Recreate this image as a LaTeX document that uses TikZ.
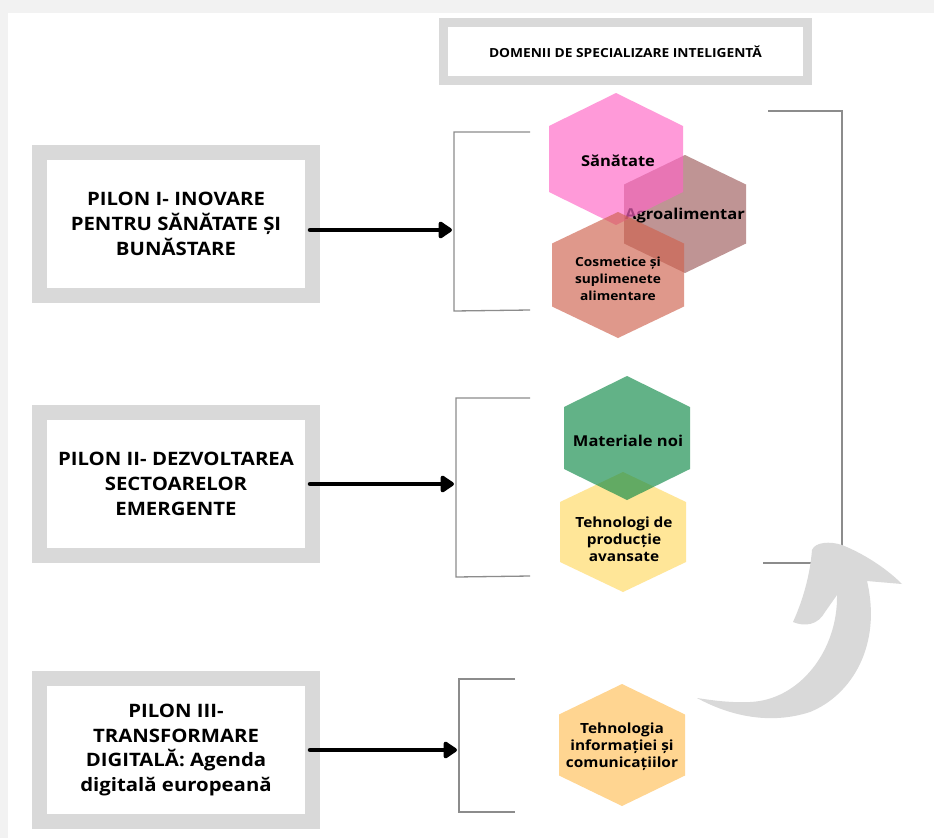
\documentclass[tikz,border=0pt]{standalone}
\usepackage{fontspec}
\setmainfont{Open Sans}[FakeStretch=1.1]
\usetikzlibrary{arrows.meta}
\definecolor{pagegray}{RGB}{242,242,242}
\definecolor{framegray}{RGB}{217,217,217}
\definecolor{brackgray}{RGB}{140,140,140}
\definecolor{arrowgray}{RGB}{217,217,217}
\definecolor{pinkc}{RGB}{255,101,198}
\definecolor{mauvec}{RGB}{158,91,91}
\definecolor{salmonc}{RGB}{207,98,78}
\definecolor{greenc}{RGB}{14,138,71}
\definecolor{yellowc}{RGB}{255,217,98}
\definecolor{peachc}{RGB}{255,213,145}
\newcommand\hexfill[4]{\fill[#4] (#1) ++(0,-#3) -- ++(#2,#3/2) -- ++(0,#3) -- ++(-#2,#3/2) -- ++(-#2,-#3/2) -- ++(0,-#3) -- cycle;}
\tikzset{
  pilon/.style={draw=framegray, line width=15pt, fill=white, minimum width=273pt, minimum height=143pt, align=center, inner sep=0pt, font=\bfseries\fontsize{18.5}{24.8}\selectfont},
  titlebox/.style={draw=framegray, line width=9pt, fill=white, minimum width=364pt, minimum height=58pt, inner sep=0pt, font=\bfseries\fontsize{12.5}{14}\selectfont},
  hextext/.style={align=center, inner sep=0pt, font=\bfseries\fontsize{15}{17}\selectfont},
  hexsmall/.style={align=center, inner sep=0pt, font=\bfseries\fontsize{14}{17}\selectfont},
  hexsmaller/.style={align=center, inner sep=0pt, font=\bfseries\fontsize{12.5}{17}\selectfont},
  bigarrow/.style={line width=4.5pt, line cap=round, -{Triangle[length=15pt,width=19pt,round]}},
  brack/.style={draw=brackgray, line width=1.3pt},
  op/.style={fill opacity=0.65}
}
\begin{document}
\begin{tikzpicture}[x=1pt,y=-1pt]
\useasboundingbox (0,0) rectangle (934,838);
\fill[pagegray] (0,0) rectangle (934,838);
\fill[white] (8,13) rectangle (934,838);

% title
\node[titlebox] (title) at (625.5,51.5) {DOMENII DE SPECIALIZARE INTELIGENTĂ};

% pillars
\node[pilon] (p1) at (176,224) {PILON I- INOVARE\\PENTRU SĂNĂTATE ȘI\\BUNĂSTARE};
\node[pilon] (p2) at (176,484) {PILON II- DEZVOLTAREA\\SECTOARELOR\\EMERGENTE};
\node[pilon] (p3) at (176,750) {PILON III-\\TRANSFORMARE\\DIGITALĂ: Agenda\\digitală europeană};

% left brackets
\draw[brack] (530,132) -- (454,132) -- (454,311) -- (530,310);
\draw[brack] (530,398) -- (456,398) -- (456,577) -- (530,576);
\draw[brack] (515,679) -- (459,679) -- (459,812) -- (515,812);
\coordinate (a1) at (452,230);
\coordinate (a2) at (454,484);
\coordinate (a3) at (457,750);

% arrows
\draw[bigarrow] ([xshift=-10pt]p1.east |- a1) -- (a1);
\draw[bigarrow] ([xshift=-10pt]p2.east |- a2) -- (a2);
\draw[bigarrow] ([xshift=-10pt]p3.east |- a3) -- (a3);

% right bracket
\draw[brack] (768,111) -- (842,111) -- (842,563) -- (763,563);

% curved arrow
\fill[arrowgray] (697,698) .. controls (730,716) and (770,725) .. (810,712)
  .. controls (852,695) and (882,645) .. (867,581)
  -- (902,584) .. controls (885,567) and (862,553) .. (842,545)
  .. controls (830,541) and (815,542) .. (812,550)
  .. controls (810,575) and (803,600) .. (793,622)
  .. controls (805,627) and (818,625) .. (825,612) -- (837,595)
  .. controls (838,650) and (800,700) .. (750,702)
  .. controls (730,703) and (710,700) .. (697,698) -- cycle;

% hexagons group 1
\coordinate (hagro) at (685,214);
\coordinate (hsan) at (616,159);
\coordinate (hcos) at (618,275);
\hexfill{hagro}{61}{59}{mauvec,op}
\node[hextext] (agro) at (685,216) {Agroalimentar};
\hexfill{hsan}{67}{66}{pinkc,op}
\node[hextext] (san) at (618,161) {Sănătate};
\hexfill{hcos}{66}{63}{salmonc,op}
\node[hexsmaller] (cos) at (618,279) {Cosmetice și\\suplimenete\\alimentare};

% hexagons group 2
\coordinate (htech) at (623,532);
\coordinate (hmat) at (627,438);
\hexfill{htech}{63}{60}{yellowc,op}
\hexfill{hmat}{63}{62}{greenc,op}
\node[hextext] (mat) at (628,441) {Materiale noi};
\node[hexsmall] (tech) at (624,539) {Tehnologi de\\producție\\avansate};

% hexagon 3
\coordinate (hict) at (622,745);
\hexfill{hict}{63}{61}{peachc}
\node[hexsmall] (ict) at (622,747) {Tehnologia\\informației și\\comunicațiilor};
\end{tikzpicture}
\end{document}
